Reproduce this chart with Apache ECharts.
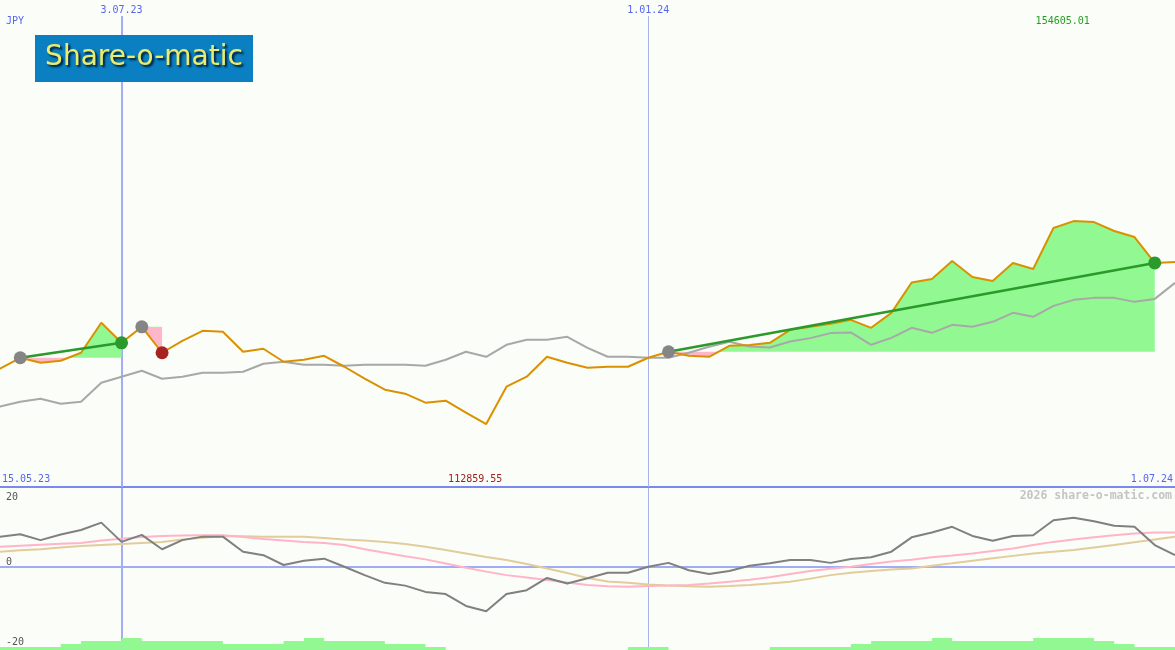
<!DOCTYPE html>
<html>
<head>
<meta charset="utf-8">
<script src="https://cdn.jsdelivr.net/npm/echarts@6/dist/echarts.min.js"></script>
<style>
html,body{margin:0;padding:0;background:#fbfdf9;}
#c{width:1175px;height:650px;}
</style>
</head>
<body>
<div id="c"></div>
<script>
// ---------------- data ----------------
const dates = [
  '2023-05-15','2023-05-22','2023-05-29','2023-06-05','2023-06-12','2023-06-19','2023-06-26',
  '2023-07-03','2023-07-10','2023-07-17','2023-07-24','2023-07-31','2023-08-07','2023-08-14','2023-08-21','2023-08-28',
  '2023-09-04','2023-09-11','2023-09-18','2023-09-25','2023-10-02','2023-10-09','2023-10-16','2023-10-23','2023-10-30',
  '2023-11-06','2023-11-13','2023-11-20','2023-11-27','2023-12-04','2023-12-11','2023-12-18','2023-12-25',
  '2024-01-01','2024-01-08','2024-01-15','2024-01-22','2024-01-29','2024-02-05','2024-02-12','2024-02-19','2024-02-26',
  '2024-03-04','2024-03-11','2024-03-18','2024-03-25','2024-04-01','2024-04-08','2024-04-15','2024-04-22','2024-04-29',
  '2024-05-06','2024-05-13','2024-05-20','2024-05-27','2024-06-03','2024-06-10','2024-06-17','2024-06-24','2024-07-01'
];
// share price (orange)
const price = [
  123600,124230,126490,125460,125870,127520,133680,
  129570,132850,127520,129980,132030,131830,127720,128340,125670,
  126080,126900,124640,122180,119920,119100,117250,117660,115200,
  112859.55,120530,122590,126690,125460,124440,124640,124640,
  126490,127720,126900,126690,128950,129100,129570,132240,132850,
  133470,134290,132650,135730,141970,142710,146410,143120,142300,
  146000,144760,153180,154605.01,154400,152570,151330,146000,146200
];
// comparison line (grey)
const benchmark = [
  115810,116430,117450,118070,117040,117450,121350,
  122590,123820,122180,122590,123410,123410,123610,125260,125670,
  125050,125050,124850,125050,125050,125050,124850,126080,127720,
  126690,129160,130180,130180,130800,128540,126690,126690,
  126490,126490,127520,128750,129770,128800,128600,129840,130530,
  131560,131690,129160,130590,132650,131620,133260,132850,133880,
  135730,134910,137170,138400,138810,138810,137990,138600,141890
];
// lower panel: oscillator (dark grey) and its two averages
const oscillator = [
  8.6,8.7,9.4,7.7,9.3,10.6,12.7,
  7.2,9.2,5.1,7.7,8.7,8.7,4.4,3.4,0.6,
  1.8,2.4,0.1,-2.3,-4.5,-5.3,-7.1,-7.7,-11.1,
  -12.6,-7.7,-6.6,-3.1,-4.7,-3.2,-1.6,-1.6,
  0.1,1.2,-0.9,-2.0,-1.1,0.4,1.1,2.0,2.0,
  1.2,2.3,2.8,4.4,8.5,9.9,11.5,8.9,7.5,
  8.9,9.1,13.4,14.1,13.1,11.8,11.5,6.3,3.4
];
const oscAvgFast = [
  5.6,5.8,6.1,6.4,6.7,6.9,7.6,
  8.1,8.6,8.9,9.0,9.1,9.1,8.6,8.0,7.6,
  7.2,6.9,6.3,5.1,4.1,3.1,2.2,1.0,-0.2,
  -1.3,-2.3,-3.0,-3.7,-4.4,-5.1,-5.5,-5.6,
  -5.4,-5.3,-5.1,-4.7,-4.2,-3.6,-2.9,-2.0,-1.1,
  -0.5,0.1,0.9,1.6,2.1,2.8,3.3,3.9,4.6,
  5.3,6.3,7.2,7.9,8.5,9.1,9.6,9.9,9.9
];
const oscAvgSlow = [
  4.0,4.4,4.8,5.1,5.6,6.0,6.3,
  6.6,6.9,7.2,7.9,8.4,8.9,8.8,8.7,8.7,
  8.7,8.3,7.9,7.6,7.2,6.6,5.8,4.9,3.9,
  2.9,2.0,0.9,-0.4,-1.7,-3.1,-4.1,-4.5,
  -5.0,-5.3,-5.5,-5.6,-5.4,-5.1,-4.7,-4.2,-3.3,
  -2.3,-1.6,-1.1,-0.7,-0.4,0.4,1.1,1.8,2.5,
  3.2,3.9,4.4,4.9,5.6,6.3,7.1,7.9,8.7
];
// green step histogram at the bottom (levels)
const volumeLevels = [
  1,1,1,1,2,3,3,
  4,3,3,3,3,2,2,2,3,
  4,3,3,3,2,2,1,0,0,
  0,0,0,0,0,0,0,1,
  1,0,0,0,0,0,1,1,1,
  1,2,3,3,3,4,3,3,3,
  3,4,4,4,3,2,1,1,1
];
// trading signals
const signalStart  = ['2023-05-29','2023-07-10','2024-01-08'];
const signalEnd    = ['2023-07-03','2023-07-17','2024-06-24'];
const signalResult = ['win','loss','win'];
// labels
const topTickDates  = ['2023-07-03','2024-01-01'];
const topTickLabels = ['3.07.23','1.01.24'];
const rangeLabels   = ['15.05.23','1.07.24'];
const currencyLabel = 'JPY';
const oscTickValues = [20, 0, -20];
const watermark = '2026 share-o-matic.com';
const logoText = 'Share-o-matic';

// ---------------- style ----------------
const MONO = '"DejaVu Sans Mono","Liberation Mono",monospace';
const BLUE_TXT = '#5566ee';
const GREEN = '#92f892';
const PINK = '#ffb6c8';
const X_MIN = '2023-05-22';
const X_MAX = '2024-07-01';
const MAIN_TOP = 16, MAIN_H = 471;

function ts(d){ const p = d.split('-'); return new Date(+p[0], +p[1]-1, +p[2]).getTime(); }
const pairs = arr => dates.map((d,i)=>[d, arr[i]]);

const series = [];

// fills between price and signal start level
signalStart.forEach((s, i) => {
  const a = dates.indexOf(s), b = dates.indexOf(signalEnd[i]);
  const data = [];
  for (let k = a; k <= b; k++) data.push([dates[k], price[k]]);
  series.push({
    id:'fill'+i, type:'line', xAxisIndex:0, yAxisIndex:0, data, symbol:'none', z:1, silent:true,
    lineStyle:{width:0, opacity:0},
    areaStyle:{origin: price[a], opacity:1, color: GREEN}
  });
});

// comparison line + vertical date lines with top labels
series.push({
  type:'line', xAxisIndex:0, yAxisIndex:0, data: pairs(benchmark), symbol:'none', z:2, silent:true,
  lineStyle:{color:'#a8a8a8', width:2},
  markLine:{
    silent:true, symbol:'none', z:1, animation:false,
    data: topTickDates.map((d,i)=>({
      xAxis: d,
      lineStyle:{color: i===0 ? '#a3acf7' : '#aab2ec', width: i===0 ? 2 : 1, type:'solid'},
      label:{show:true, position:'end', formatter: topTickLabels[i], color: BLUE_TXT,
             fontFamily: MONO, fontSize:10, distance:1}
    }))
  }
});

// price line
series.push({
  type:'line', xAxisIndex:0, yAxisIndex:0, data: pairs(price), symbol:'none', z:3, silent:true,
  lineStyle:{color:'#da9100', width:2}
});

// trend lines for winning signals
signalStart.forEach((s,i)=>{
  if (signalResult[i] !== 'win') return;
  const a = dates.indexOf(s), b = dates.indexOf(signalEnd[i]);
  series.push({
    type:'line', xAxisIndex:0, yAxisIndex:0, symbol:'none', z:4, silent:true,
    data:[[dates[a], price[a]],[dates[b], price[b]]],
    lineStyle:{color:'#2a9a2a', width:2.5}
  });
});

// markers
series.push({
  type:'scatter', xAxisIndex:0, yAxisIndex:0, z:5, silent:true, symbolSize:13,
  itemStyle:{color:'#858585', opacity:1},
  data: signalStart.map(s=>{ const a = dates.indexOf(s); return [s, price[a]]; })
});
series.push({
  type:'scatter', xAxisIndex:0, yAxisIndex:0, z:6, silent:true, symbolSize:13,
  data: signalEnd.map((s,i)=>{ const b = dates.indexOf(s);
    return {value:[s, price[b]], itemStyle:{opacity:1, color: signalResult[i]==='win' ? '#2a9a2a' : '#a82222'}}; })
});

// lower panel: histogram
series.push({
  type:'line', xAxisIndex:1, yAxisIndex:2, step:'end', symbol:'none', z:3, silent:true,
  data: pairs(volumeLevels), lineStyle:{width:0, opacity:0},
  areaStyle:{color:'#92f892', opacity:1, origin:'start'}
});
// lower panel lines
series.push({
  type:'line', xAxisIndex:1, yAxisIndex:1, data: pairs(oscAvgSlow), symbol:'none', z:4, silent:true,
  lineStyle:{color:'#e2cc9c', width:2}
});
series.push({
  type:'line', xAxisIndex:1, yAxisIndex:1, data: pairs(oscAvgFast), symbol:'none', z:4, silent:true,
  lineStyle:{color:'#ffb4c8', width:2}
});
series.push({
  type:'line', xAxisIndex:1, yAxisIndex:1, data: pairs(oscillator), symbol:'none', z:5, silent:true,
  lineStyle:{color:'#808080', width:2},
  markLine:{
    silent:true, symbol:'none', z:1, animation:false, label:{show:false},
    data: [{yAxis:0, lineStyle:{color:'#a0acf4', width:2, type:'solid'}}].concat(
      topTickDates.map((d,i)=>({xAxis:d,
        lineStyle:{color: i===0 ? '#a3acf7' : '#aab2ec', width: i===0 ? 2 : 1, type:'solid'}})))
  }
});

const hiddenAxis = {axisLine:{show:false}, axisTick:{show:false}, axisLabel:{show:false}, splitLine:{show:false}};
const option = {
  backgroundColor:'#fbfdf9',
  animation:false,
  grid:[
    {left:0, right:0, top:MAIN_TOP, height:MAIN_H},
    {left:0, right:0, top:488, height:162}
  ],
  xAxis:[
    Object.assign({type:'time', gridIndex:0, min:X_MIN, max:X_MAX}, hiddenAxis,
      {axisLine:{show:true, onZero:false, lineStyle:{color:'#7b88ee', width:2}}}),
    Object.assign({type:'time', gridIndex:1, min:X_MIN, max:X_MAX}, hiddenAxis)
  ],
  yAxis:[
    Object.assign({type:'value', gridIndex:0, min:99900, max:196800}, hiddenAxis),
    Object.assign({type:'value', gridIndex:1, min:-23.7, max:22.6}, hiddenAxis),
    Object.assign({type:'value', gridIndex:1, min:0, max:54}, hiddenAxis)
  ],
  series
};

const chart = echarts.init(document.getElementById('c'));
chart.setOption(option);

// colour each fill green above / pink below its start level (global vertical gradient)
const yMain = v => chart.convertToPixel({yAxisIndex:0}, v);
chart.setOption({
  series: signalStart.map((s,i)=>{
    const a = dates.indexOf(s);
    const off = Math.min(1, Math.max(0, (yMain(price[a]) - MAIN_TOP) / MAIN_H));
    return {id:'fill'+i, areaStyle:{origin: price[a], opacity:1,
      color: new echarts.graphic.LinearGradient(0, MAIN_TOP, 0, MAIN_TOP + MAIN_H, [
        {offset:0, color:GREEN},{offset:off, color:GREEN},{offset:off, color:PINK},{offset:1, color:PINK}
      ], true)}};
  })
});

// ---------------- text overlays ----------------
const xPix = d => chart.convertToPixel({xAxisIndex:0}, ts(d));
const yOsc = v => chart.convertToPixel({yAxisIndex:1}, v);
let iMax = 0, iMin = 0;
price.forEach((v,i)=>{ if (v > price[iMax]) iMax = i; if (v < price[iMin]) iMin = i; });

const txt = (x, y, text, color, align, vAlign, extra) => ({
  type:'text', x, y, z:50, silent:true,
  style:Object.assign({text, fill:color, font:'10px '+MONO, align, verticalAlign:vAlign||'middle'}, extra||{})
});

const graphic = [
  // logo
  {type:'rect', shape:{x:35, y:35, width:218, height:47}, style:{fill:'#0a80c2'}, z:40, silent:true},
  {type:'text', x:144, y:58, z:41, silent:true, style:{
    text: logoText, font:'28px "DejaVu Sans", sans-serif', align:'center', verticalAlign:'middle',
    fill:'#e8ec72', stroke:'rgba(120,130,40,0.35)', lineWidth:0.6,
    textShadowColor:'rgba(0,25,50,0.9)', textShadowBlur:2, textShadowOffsetX:2, textShadowOffsetY:2,
    shadowColor:'rgba(0,25,50,0.9)', shadowBlur:2, shadowOffsetX:2, shadowOffsetY:2 }},
  txt(6, 21, currencyLabel, BLUE_TXT, 'left'),
  txt(xPix(dates[iMax]) - 11, 21, price[iMax].toFixed(2), '#22a022', 'center'),
  txt(xPix(dates[iMin]) - 11, 479, price[iMin].toFixed(2), '#a02020', 'center'),
  txt(2, 479, rangeLabels[0], BLUE_TXT, 'left'),
  txt(1173, 479, rangeLabels[1], BLUE_TXT, 'right'),
  txt(1172, 496, watermark, '#c4c4c4', 'right', 'middle', {font:'bold 11.5px '+MONO})
];
oscTickValues.forEach(v=>{
  const y = yOsc(v);
  graphic.push(txt(6, y, String(v), '#555555', 'left', v > 0 ? 'middle' : (v === 0 ? 'bottom' : 'top')));
});
chart.setOption({graphic});
</script>
</body>
</html>
